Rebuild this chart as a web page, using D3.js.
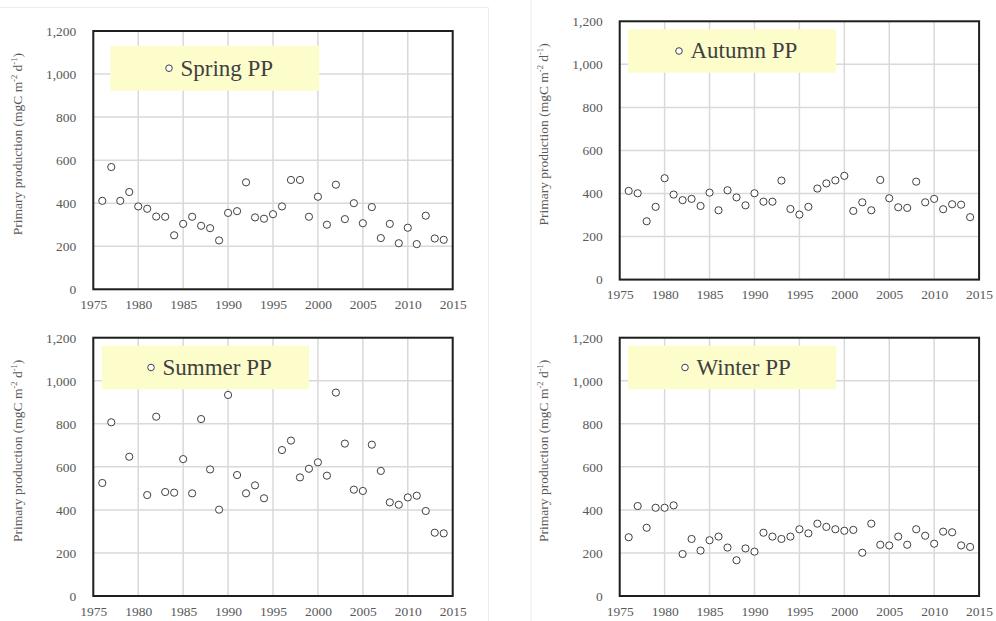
<!DOCTYPE html>
<html>
<head>
<meta charset="utf-8">
<script src="https://cdn.jsdelivr.net/npm/d3@7"></script>
<style>
  html, body { margin: 0; padding: 0; background: #ffffff; }
  svg { display: block; }
</style>
</head>
<body>
<svg id="chart" width="996" height="621"></svg>
<script>
// Seasonal primary production, 1976–2014 (mgC m^-2 d^-1); null = no value that year
const years = d3.range(1976, 2015);

const springPP = [411, 568, 411, 452, 385, 374, 338, 337, 251, 304,
                  337, 295, 284, 227, 355, 363, 497, 334, 328, 349,
                  385, 508, 508, 337, 430, 300, 486, 326, 400, 307,
                  382, 238, 304, 214, 286, 210, 342, 236, 230];

const autumnPP = [412, 401, 271, 338, 471, 395, 369, 375, 342, 404,
                  322, 415, 382, 345, 401, 362, 362, 460, 328, 302,
                  338, 423, 447, 461, 482, 319, 359, 322, 463, 378,
                  336, 333, 455, 359, 375, 327, 350, 348, 290];

const summerPP = [525, 807, null, 647, null, 469, 833, 483, 480, 636,
                  477, 822, 588, 401, 934, 562, 477, 514, 454, null,
                  678, 722, 551, 591, 621, 559, 945, 708, 494, 488,
                  703, 581, 435, 424, 458, 466, 395, 294, 291];

const winterPP = [273, 418, 317, 410, 410, 421, 195, 265, 211, 259,
                  276, 225, 166, 221, 206, 294, 276, 265, 276, 310,
                  291, 336, 321, 310, 303, 307, 201, 336, 238, 235,
                  276, 238, 310, 280, 243, 299, 296, 235, 228];

const seasonNames = ["Spring PP", "Autumn PP", "Summer PP", "Winter PP"];
const seasonValues = [springPP, autumnPP, summerPP, winterPP];

const yTicks = [0, 200, 400, 600, 800, 1000, 1200];
const xTicks = [1975, 1980, 1985, 1990, 1995, 2000, 2005, 2010, 2015];
const yDomain = [0, 1200];
const xDomain = [1975, 2015];

// Plot-area frames (left, top) for each panel and legend-box geometry
const panelOrigins = [[93.3, 31], [619.7, 21.3], [93.3, 337.7], [619.7, 337.7]];
const legendBoxes = [
  {x: 17, y: 14.7, w: 209, h: 45, mx: 75.7},
  {x: 8.3, y: 8, w: 208.3, h: 43.4, mx: 59.3},
  {x: 8.4, y: 8, w: 207.3, h: 43.6, mx: 57.7},
  {x: 8.3, y: 8, w: 208.3, h: 43.6, mx: 65.3}
];

const plotW = 359.4, plotH = 258.3;
const serif = "'Liberation Serif', 'Times New Roman', serif";
const textGrey = "#595959";

const svg = d3.select("#chart");

// faint figure separators
const sep = svg.append("g").attr("stroke", "#ececec").attr("stroke-width", 1);
sep.append("line").attr("x1", 0).attr("x2", 488.5).attr("y1", 7.5).attr("y2", 7.5);
sep.append("line").attr("x1", 488.5).attr("x2", 488.5).attr("y1", 7.5).attr("y2", 621);
sep.append("line").attr("x1", 531).attr("x2", 531).attr("y1", 0).attr("y2", 621);

seasonNames.forEach((name, i) => {
  const [ox, oy] = panelOrigins[i];
  const values = seasonValues[i];
  const lg = legendBoxes[i];

  const x = d3.scaleLinear().domain(xDomain).range([0, plotW]);
  const y = d3.scaleLinear().domain(yDomain).range([plotH, 0]);

  const g = svg.append("g").attr("transform", `translate(${ox},${oy})`);

  // gridlines
  g.append("g")
    .selectAll("line.h").data(yTicks).join("line")
    .attr("x1", 0).attr("x2", plotW)
    .attr("y1", d => y(d)).attr("y2", d => y(d))
    .attr("stroke", "#d9d9d9").attr("stroke-width", 1.5);
  g.append("g")
    .selectAll("line.v").data(xTicks).join("line")
    .attr("y1", 0).attr("y2", plotH)
    .attr("x1", d => x(d)).attr("x2", d => x(d))
    .attr("stroke", "#d9d9d9").attr("stroke-width", 1.5);

  // axes (labels only; the frame is drawn separately)
  const yAxis = g.append("g")
    .call(d3.axisLeft(y).tickValues(yTicks).tickSize(0).tickPadding(17)
      .tickFormat(d3.format(",")));
  const xAxis = g.append("g").attr("transform", `translate(0,${plotH})`)
    .call(d3.axisBottom(x).tickValues(xTicks).tickSize(0).tickPadding(10)
      .tickFormat(d3.format("d")));
  [yAxis, xAxis].forEach(ax => {
    ax.select(".domain").remove();
    ax.selectAll("text")
      .attr("font-family", serif).attr("font-size", 13.5)
      .attr("fill", textGrey);
  });

  // y-axis title
  const yt = g.append("text")
    .attr("transform", `translate(-71.3,${plotH / 2 - 16}) rotate(-90)`)
    .attr("text-anchor", "middle")
    .attr("font-family", serif).attr("font-size", 13.5)
    .attr("fill", textGrey);
  yt.append("tspan").text("Primary production (mgC m");
  yt.append("tspan").attr("dy", -5).attr("font-size", 8.5).text("-2");
  yt.append("tspan").attr("dy", 5).text(" d");
  yt.append("tspan").attr("dy", -5).attr("font-size", 8.5).text("-1");
  yt.append("tspan").attr("dy", 5).text(")");

  // legend box
  g.append("rect")
    .attr("x", lg.x).attr("y", lg.y).attr("width", lg.w).attr("height", lg.h)
    .attr("fill", "#fdfccb");
  g.append("circle")
    .attr("cx", lg.mx).attr("cy", lg.y + lg.h / 2)
    .attr("r", 3.3).attr("fill", "#ffffff")
    .attr("stroke", "#404040").attr("stroke-width", 1);
  g.append("text")
    .attr("x", lg.mx + 11.5).attr("y", lg.y + lg.h / 2 + 7.5)
    .attr("font-family", serif).attr("font-size", 23)
    .attr("fill", "#404040")
    .text(name);

  // data points
  const pts = years.map((yr, k) => ({year: yr, value: values[k]}))
    .filter(d => d.value != null);
  g.append("g")
    .selectAll("circle").data(pts).join("circle")
    .attr("cx", d => x(d.year)).attr("cy", d => y(d.value))
    .attr("r", 3.6).attr("fill", "#ffffff")
    .attr("stroke", "#404040").attr("stroke-width", 1);

  // plot-area frame
  g.append("rect")
    .attr("x", 0).attr("y", 0).attr("width", plotW).attr("height", plotH)
    .attr("fill", "none").attr("stroke", "#1f1f1f").attr("stroke-width", 2);
});
</script>
</body>
</html>
